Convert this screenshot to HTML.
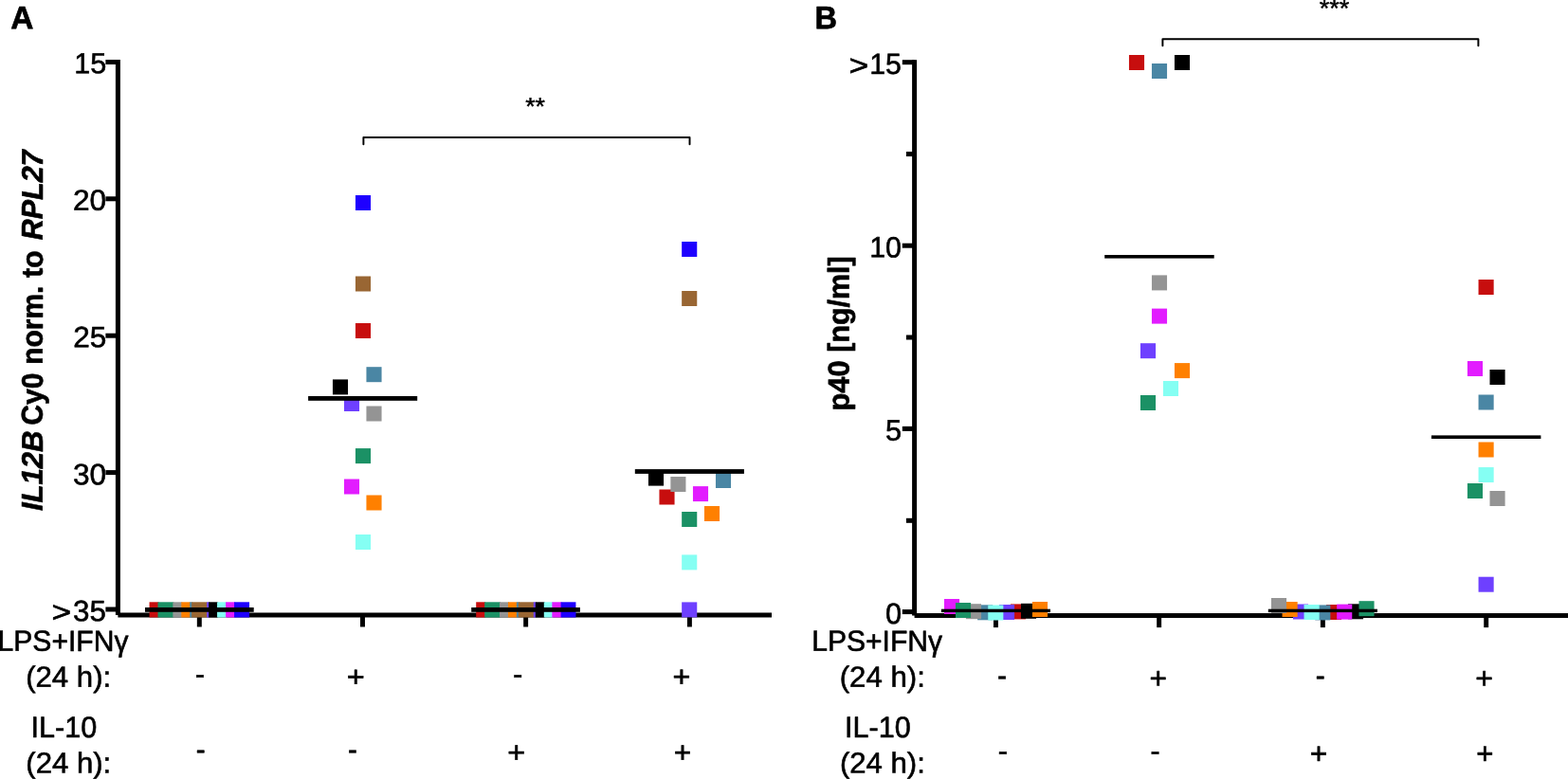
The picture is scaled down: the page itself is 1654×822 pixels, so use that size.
<!DOCTYPE html>
<html lang="en">
<head>
<meta charset="utf-8">
<title>IL12B expression and p40 secretion</title>
<style>
html,body{margin:0;padding:0;background:#ffffff;}
body{width:1654px;height:822px;}
svg{display:block;}
svg text{font-family:"Liberation Sans",sans-serif;font-size:31px;fill:#000;stroke:#000;stroke-width:0.620px;stroke-linejoin:round;white-space:pre;}
svg text.b{font-weight:bold;}
svg text.i{font-style:italic;}
svg text.s{stroke-width:0.558px;}
</style>
</head>
<body>
<svg width="1654" height="822" viewBox="0 0 1654 822">
<rect x="0" y="0" width="1654" height="822" fill="#ffffff"/>
<g id="panel-a">
<!-- axes and tick marks -->
<g class="axes">
<rect x="121.90" y="63.00" width="5.00" height="586.00" fill="#000"/>
<rect x="124.40" y="646.50" width="689.60" height="5.00" fill="#000"/>
<rect x="111.40" y="63.00" width="13.00" height="5.00" fill="#000"/>
<rect x="111.40" y="207.30" width="13.00" height="5.00" fill="#000"/>
<rect x="111.40" y="351.70" width="13.00" height="5.00" fill="#000"/>
<rect x="111.40" y="496.10" width="13.00" height="5.00" fill="#000"/>
<rect x="111.40" y="640.50" width="13.00" height="5.00" fill="#000"/>
<rect x="207.83" y="649.00" width="4.95" height="12.50" fill="#000"/>
<rect x="380.02" y="649.00" width="4.95" height="12.50" fill="#000"/>
<rect x="552.17" y="649.00" width="4.95" height="12.50" fill="#000"/>
<rect x="724.92" y="649.00" width="4.95" height="12.50" fill="#000"/>
</g>
<!-- individual donors (one colour per donor) -->
<g class="points">
<rect x="157.55" y="635.30" width="9.95" height="16.20" fill="#c70e0e"/>
<rect x="166.50" y="635.30" width="16.85" height="16.20" fill="#1b9165"/>
<rect x="182.35" y="635.30" width="9.95" height="16.20" fill="#949494"/>
<rect x="191.30" y="635.30" width="9.90" height="16.20" fill="#ff8000"/>
<rect x="200.20" y="635.30" width="2.95" height="16.20" fill="#4a86a4"/>
<rect x="202.15" y="635.30" width="17.00" height="16.20" fill="#996633"/>
<rect x="218.15" y="635.30" width="3.00" height="16.20" fill="#6e40ff"/>
<rect x="220.15" y="635.30" width="9.90" height="16.20" fill="#000000"/>
<rect x="229.05" y="635.30" width="10.05" height="16.20" fill="#85fff3"/>
<rect x="238.10" y="635.30" width="9.95" height="16.20" fill="#e21cff"/>
<rect x="247.05" y="635.30" width="16.00" height="16.20" fill="#1e00ff"/>
<rect x="374.95" y="206.00" width="16.10" height="16.00" fill="#1e00ff"/>
<rect x="374.95" y="291.50" width="16.10" height="16.00" fill="#996633"/>
<rect x="374.95" y="341.00" width="16.10" height="16.00" fill="#c70e0e"/>
<rect x="386.45" y="387.20" width="16.10" height="16.00" fill="#4a86a4"/>
<rect x="350.95" y="400.40" width="16.10" height="16.00" fill="#000000"/>
<rect x="362.95" y="418.00" width="16.10" height="16.00" fill="#6e40ff"/>
<rect x="386.45" y="428.50" width="16.10" height="16.00" fill="#949494"/>
<rect x="374.95" y="473.10" width="16.10" height="16.00" fill="#1b9165"/>
<rect x="362.95" y="505.50" width="16.10" height="16.00" fill="#e21cff"/>
<rect x="386.45" y="522.50" width="16.10" height="16.00" fill="#ff8000"/>
<rect x="374.95" y="564.00" width="16.10" height="16.00" fill="#85fff3"/>
<rect x="502.20" y="635.30" width="9.95" height="16.20" fill="#c70e0e"/>
<rect x="511.15" y="635.30" width="16.85" height="16.20" fill="#1b9165"/>
<rect x="527.00" y="635.30" width="9.95" height="16.20" fill="#949494"/>
<rect x="535.95" y="635.30" width="9.90" height="16.20" fill="#ff8000"/>
<rect x="544.85" y="635.30" width="2.95" height="16.20" fill="#4a86a4"/>
<rect x="546.80" y="635.30" width="17.00" height="16.20" fill="#996633"/>
<rect x="562.80" y="635.30" width="3.00" height="16.20" fill="#6e40ff"/>
<rect x="564.80" y="635.30" width="10.00" height="16.20" fill="#000000"/>
<rect x="573.80" y="635.30" width="9.55" height="16.20" fill="#85fff3"/>
<rect x="582.35" y="635.30" width="10.25" height="16.20" fill="#e21cff"/>
<rect x="591.60" y="635.30" width="15.85" height="16.20" fill="#1e00ff"/>
<rect x="719.15" y="255.00" width="16.10" height="16.00" fill="#1e00ff"/>
<rect x="719.15" y="307.00" width="16.10" height="16.00" fill="#996633"/>
<rect x="683.95" y="496.60" width="16.10" height="16.00" fill="#000000"/>
<rect x="695.45" y="516.50" width="16.10" height="16.00" fill="#c70e0e"/>
<rect x="707.35" y="503.00" width="16.10" height="16.00" fill="#949494"/>
<rect x="730.95" y="513.10" width="16.10" height="16.00" fill="#e21cff"/>
<rect x="754.95" y="499.00" width="16.10" height="16.00" fill="#4a86a4"/>
<rect x="742.95" y="534.00" width="16.10" height="16.00" fill="#ff8000"/>
<rect x="719.15" y="540.00" width="16.10" height="16.00" fill="#1b9165"/>
<rect x="719.15" y="585.40" width="16.10" height="16.00" fill="#85fff3"/>
<rect x="719.15" y="635.40" width="16.10" height="16.00" fill="#6e40ff"/>
</g>
<!-- group means -->
<g class="means">
<rect x="153.00" y="641.00" width="114.70" height="4.80" fill="#000"/>
<rect x="325.10" y="418.00" width="115.10" height="4.80" fill="#000"/>
<rect x="497.20" y="641.00" width="114.70" height="4.80" fill="#000"/>
<rect x="669.80" y="495.10" width="115.10" height="4.80" fill="#000"/>
</g>
<!-- significance bracket -->
<g class="annot">
<polyline points="383.4,152.3 383.4,144.9 727.5,144.9 727.5,152.3" fill="none" stroke="#000" stroke-width="1.95" stroke-linejoin="round" stroke-linecap="round"/>
</g>
<!-- panel letter -->
<g class="title">
<text transform="matrix(1.0799 0.00108 -0.00109 1.0859 11.20 30.35)" class="b">A</text>
</g>
<!-- y axis title -->
<g class="ytitle">
<text transform="matrix(0.00100 -1.0032 1.0177 0.00102 44.84 539.11)" class="b i">IL12B</text>
<text transform="matrix(0.00097 -0.9723 1.0177 0.00102 44.86 448.70)" class="b">Cy0</text>
<text transform="matrix(0.00097 -0.9671 1.0177 0.00102 44.84 384.85)" class="b">norm.</text>
<text transform="matrix(0.00099 -0.9907 1.0177 0.00102 44.87 293.10)" class="b">to</text>
<text transform="matrix(0.00098 -0.9821 1.0177 0.00102 44.84 253.20)" class="b i">RPL27</text>
</g>
<!-- y axis tick labels -->
<g class="yticks">
<text transform="matrix(0.9852 0.00099 -0.00099 0.9857 78.21 77.17)">15</text>
<text transform="matrix(1.0218 0.00102 -0.00099 0.9943 76.93 221.77)">20</text>
<text transform="matrix(1.0174 0.00102 -0.00100 0.9987 77.24 366.26)">25</text>
<text transform="matrix(1.0213 0.00102 -0.00101 1.0075 76.95 511.16)">30</text>
<text transform="matrix(1.1370 0.00114 -0.00100 0.9982 54.49 656.20)">&gt;</text><text transform="matrix(1.0108 0.00101 -0.00100 0.9987 77.06 655.16)">35</text>
</g>
<!-- significance -->
<g class="stars">
<text transform="matrix(0.8616 0.00086 -0.00083 0.8282 554.13 121.06)" class="s">**</text>
</g>
<!-- treatment row labels -->
<g class="rows">
<text transform="matrix(0.9706 0.00097 -0.00100 0.9950 -2.41 686.82)">LPS+IFNγ</text>
<text transform="matrix(1.0051 0.00101 -0.00100 0.9950 27.14 724.65)">(24 h):</text>
<text transform="matrix(0.9871 0.00099 -0.00100 1.0041 32.45 778.05)">IL-10</text>
<text transform="matrix(1.0040 0.00100 -0.00099 0.9905 27.34 815.45)">(24 h):</text>
</g>
<!-- treatment matrix -->
<g class="signs">
<text transform="matrix(0.9556 0.00096 -0.00103 1.0323 205.96 722.08)">-</text>
<text transform="matrix(1.0476 0.00105 -0.00099 0.9930 365.70 724.55)">+</text>
<text transform="matrix(0.9677 0.00097 -0.00103 1.0323 541.25 722.07)">-</text>
<text transform="matrix(1.0412 0.00104 -0.00101 1.0057 709.61 724.58)">+</text>
<text transform="matrix(0.9556 0.00096 -0.00103 1.0323 206.76 801.58)">-</text>
<text transform="matrix(0.9556 0.00096 -0.00103 1.0323 366.96 801.58)">-</text>
<text transform="matrix(1.0476 0.00105 -0.00101 1.0120 535.30 804.40)">+</text>
<text transform="matrix(1.0220 0.00102 -0.00101 1.0120 710.73 804.40)">+</text>
</g>
</g>
<g id="panel-b">
<!-- axes and tick marks -->
<g class="axes">
<rect x="962.10" y="63.20" width="5.00" height="586.35" fill="#000"/>
<rect x="964.60" y="647.05" width="689.40" height="5.00" fill="#000"/>
<rect x="951.80" y="63.20" width="12.80" height="5.00" fill="#000"/>
<rect x="951.80" y="256.70" width="12.80" height="5.00" fill="#000"/>
<rect x="951.80" y="449.90" width="12.80" height="5.00" fill="#000"/>
<rect x="951.80" y="643.10" width="12.80" height="5.00" fill="#000"/>
<rect x="955.90" y="160.05" width="8.70" height="5.00" fill="#000"/>
<rect x="955.90" y="353.50" width="8.70" height="5.00" fill="#000"/>
<rect x="955.90" y="546.80" width="8.70" height="5.00" fill="#000"/>
<rect x="1047.98" y="649.55" width="4.95" height="12.55" fill="#000"/>
<rect x="1220.18" y="649.55" width="4.95" height="12.55" fill="#000"/>
<rect x="1392.88" y="649.55" width="4.95" height="12.55" fill="#000"/>
<rect x="1565.23" y="649.55" width="4.95" height="12.55" fill="#000"/>
</g>
<!-- individual donors (one colour per donor) -->
<g class="points">
<rect x="995.95" y="632.00" width="16.10" height="16.00" fill="#e21cff"/>
<rect x="1031.15" y="638.30" width="16.10" height="16.00" fill="#4a86a4"/>
<rect x="1018.95" y="637.20" width="16.10" height="16.00" fill="#949494"/>
<rect x="1007.95" y="636.00" width="16.10" height="16.00" fill="#1b9165"/>
<rect x="1065.95" y="637.40" width="16.10" height="16.00" fill="#c70e0e"/>
<rect x="1053.95" y="638.00" width="16.10" height="16.00" fill="#6e40ff"/>
<rect x="1042.25" y="638.50" width="16.10" height="16.00" fill="#85fff3"/>
<rect x="1076.95" y="636.80" width="16.10" height="16.00" fill="#000000"/>
<rect x="1088.95" y="635.00" width="16.10" height="16.00" fill="#ff8000"/>
<rect x="1190.95" y="58.00" width="16.10" height="16.00" fill="#c70e0e"/>
<rect x="1214.95" y="67.00" width="16.10" height="16.00" fill="#4a86a4"/>
<rect x="1238.95" y="58.00" width="16.10" height="16.00" fill="#000000"/>
<rect x="1214.95" y="290.40" width="16.10" height="16.00" fill="#949494"/>
<rect x="1214.95" y="325.60" width="16.10" height="16.00" fill="#e21cff"/>
<rect x="1202.95" y="362.20" width="16.10" height="16.00" fill="#6e40ff"/>
<rect x="1238.95" y="383.10" width="16.10" height="16.00" fill="#ff8000"/>
<rect x="1226.95" y="402.00" width="16.10" height="16.00" fill="#85fff3"/>
<rect x="1202.95" y="417.00" width="16.10" height="16.00" fill="#1b9165"/>
<rect x="1363.95" y="637.50" width="16.10" height="16.00" fill="#6e40ff"/>
<rect x="1352.55" y="635.00" width="16.10" height="16.00" fill="#ff8000"/>
<rect x="1340.95" y="631.00" width="16.10" height="16.00" fill="#949494"/>
<rect x="1398.95" y="638.00" width="16.10" height="16.00" fill="#c70e0e"/>
<rect x="1387.25" y="638.40" width="16.10" height="16.00" fill="#4a86a4"/>
<rect x="1375.55" y="638.00" width="16.10" height="16.00" fill="#85fff3"/>
<rect x="1421.95" y="637.30" width="16.10" height="16.00" fill="#000000"/>
<rect x="1410.15" y="637.60" width="16.10" height="16.00" fill="#e21cff"/>
<rect x="1433.45" y="634.20" width="16.10" height="16.00" fill="#1b9165"/>
<rect x="1559.55" y="295.00" width="16.10" height="16.00" fill="#c70e0e"/>
<rect x="1547.90" y="381.00" width="16.10" height="16.00" fill="#e21cff"/>
<rect x="1571.50" y="390.00" width="16.10" height="16.00" fill="#000000"/>
<rect x="1559.55" y="416.50" width="16.10" height="16.00" fill="#4a86a4"/>
<rect x="1559.55" y="466.50" width="16.10" height="16.00" fill="#ff8000"/>
<rect x="1559.55" y="493.05" width="16.10" height="16.00" fill="#85fff3"/>
<rect x="1547.90" y="510.00" width="16.10" height="16.00" fill="#1b9165"/>
<rect x="1571.50" y="518.00" width="16.10" height="16.00" fill="#949494"/>
<rect x="1559.55" y="608.70" width="16.10" height="16.00" fill="#6e40ff"/>
</g>
<!-- group means -->
<g class="means">
<rect x="992.90" y="642.70" width="115.10" height="3.40" fill="#000"/>
<rect x="1165.20" y="269.00" width="115.50" height="3.60" fill="#000"/>
<rect x="1337.80" y="642.70" width="115.10" height="3.40" fill="#000"/>
<rect x="1509.90" y="459.40" width="115.50" height="3.60" fill="#000"/>
</g>
<!-- significance bracket -->
<g class="annot">
<polyline points="1226.4,48.3 1226.4,41.2 1559.4,41.2 1559.4,48.3" fill="none" stroke="#000" stroke-width="1.95" stroke-linejoin="round" stroke-linecap="round"/>
</g>
<!-- panel letter -->
<g class="title">
<text transform="matrix(1.0497 0.00105 -0.00109 1.0859 859.51 30.35)" class="b">B</text>
</g>
<!-- y axis title -->
<g class="ytitle">
<text transform="matrix(0.00100 -0.9972 1.0132 0.00101 895.56 433.60)" class="b">p40</text>
<text transform="matrix(0.00098 -0.9807 1.0132 0.00101 895.54 371.67)" class="b">[ng/ml]</text>
</g>
<!-- y axis tick labels -->
<g class="yticks">
<text transform="matrix(1.1434 0.00114 -0.00100 0.9982 895.48 79.40)">&gt;</text><text transform="matrix(0.9789 0.00098 -0.00100 0.9991 917.23 77.96)">15</text>
<text transform="matrix(0.9804 0.00098 -0.00099 0.9898 917.22 271.37)">10</text>
<text transform="matrix(0.9906 0.00099 -0.00100 1.0036 933.88 464.67)">5</text>
<text transform="matrix(0.9906 0.00099 -0.00099 0.9943 934.08 658.08)">0</text>
</g>
<!-- significance -->
<g class="stars">
<text transform="matrix(0.8752 0.00088 -0.00084 0.8370 1391.63 17.45)" class="s">***</text>
</g>
<!-- treatment row labels -->
<g class="rows">
<text transform="matrix(0.9706 0.00097 -0.00100 0.9950 856.19 686.82)">LPS+IFNγ</text>
<text transform="matrix(1.0051 0.00101 -0.00100 0.9950 885.74 724.65)">(24 h):</text>
<text transform="matrix(0.9871 0.00099 -0.00100 1.0041 891.05 778.05)">IL-10</text>
<text transform="matrix(1.0040 0.00100 -0.00099 0.9905 885.94 815.45)">(24 h):</text>
</g>
<!-- treatment matrix -->
<g class="signs">
<text transform="matrix(0.9799 0.00098 -0.00103 1.0323 1052.04 723.57)">-</text>
<text transform="matrix(1.0220 0.00102 -0.00101 1.0120 1212.53 726.20)">+</text>
<text transform="matrix(0.9677 0.00097 -0.00103 1.0323 1387.75 723.57)">-</text>
<text transform="matrix(1.0348 0.00103 -0.00101 1.0120 1556.22 726.20)">+</text>
<text transform="matrix(0.9921 0.00099 -0.00103 1.0323 1052.82 802.97)">-</text>
<text transform="matrix(0.9738 0.00097 -0.00103 1.0323 1213.39 802.97)">-</text>
<text transform="matrix(1.0220 0.00102 -0.00102 1.0183 1381.73 805.72)">+</text>
<text transform="matrix(1.0029 0.00100 -0.00102 1.0183 1557.36 805.72)">+</text>
</g>
</g>
</svg>
</body>
</html>
